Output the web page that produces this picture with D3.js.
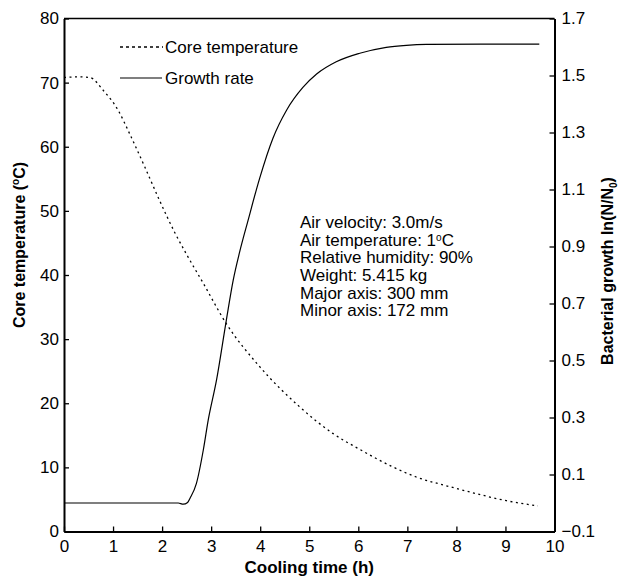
<!DOCTYPE html>
<html>
<head>
<meta charset="utf-8">
<script src="https://cdn.jsdelivr.net/npm/d3@7"></script>
<style>
  body { margin: 0; background: #fff; }
  svg { display: block; font-family: "Liberation Sans", Arial, sans-serif; }
</style>
</head>
<body>
<svg id="chart" width="623" height="584"></svg>
<script>
// ---- data ----
const tempTime = [0, 0.3, 0.53, 0.8, 1.11, 1.34, 1.65, 1.95, 2.26, 2.5, 2.84, 3.31, 3.99, 4.81, 5.48, 6.03, 6.67, 7.18, 7.86, 8.51, 9.02, 9.66];
const coreTemp = [70.8, 70.9, 70.8, 68.8, 65.6, 62.0, 56.8, 51.6, 46.6, 43.2, 38.7, 32.4, 25.7, 19.4, 15.3, 12.8, 10.2, 8.5, 7.0, 5.7, 4.8, 4.0];

const growthTime = [0, 1, 2, 2.33, 2.43, 2.52, 2.57, 2.70, 2.84, 2.94, 3.11, 3.31, 3.45, 3.58, 3.75, 3.99, 4.26, 4.54, 4.87, 5.15, 5.55, 6.03, 6.57, 6.98, 7.39, 8.5, 9.69];
const growth = [0, 0, 0, 0, -0.004, 0.002, 0.017, 0.069, 0.186, 0.291, 0.432, 0.642, 0.782, 0.88, 0.99, 1.14, 1.28, 1.379, 1.458, 1.505, 1.548, 1.578, 1.599, 1.606, 1.609, 1.610, 1.610];

const xTicks = [0, 1, 2, 3, 4, 5, 6, 7, 8, 9, 10];
const leftTicks = [0, 10, 20, 30, 40, 50, 60, 70, 80];
const rightTicks = [-0.1, 0.1, 0.3, 0.5, 0.7, 0.9, 1.1, 1.3, 1.5, 1.7];

const legendLabels = ["Core temperature", "Growth rate"];
const notes = ["Air velocity: 3.0m/s", "Air temperature: 1|C", "Relative humidity: 90%", "Weight: 5.415 kg", "Major axis: 300 mm", "Minor axis: 172 mm"];

// ---- layout ----
const L = 64, R = 554.5, T = 18.5, B = 531.5;
const svg = d3.select("#chart");
const x = d3.scaleLinear().domain([0, 10]).range([L, R]);
const yL = d3.scaleLinear().domain([0, 80]).range([B, T]);
const yR = d3.scaleLinear().domain([-0.1, 1.7]).range([B, T]);

const fs = 17;

// frame top line
svg.append("line").attr("x1", L).attr("x2", R).attr("y1", T).attr("y2", T)
  .attr("stroke", "#000").attr("stroke-width", 1.3);

// axes
const gx = svg.append("g").attr("transform", `translate(0,${B})`)
  .call(d3.axisBottom(x).tickValues(xTicks).tickFormat(d3.format("d")).tickSizeInner(-5).tickSizeOuter(0).tickPadding(8));
const gl = svg.append("g").attr("transform", `translate(${L},0)`)
  .call(d3.axisLeft(yL).tickValues(leftTicks).tickFormat(d3.format("d")).tickSizeInner(-5).tickSizeOuter(0).tickPadding(5));
const gr = svg.append("g").attr("transform", `translate(${R},0)`)
  .call(d3.axisRight(yR).tickValues(rightTicks).tickFormat(d3.format(".1f")).tickSizeInner(-5).tickSizeOuter(0).tickPadding(7));

[gx, gl, gr].forEach(g => {
  g.select(".domain").attr("stroke", "#000").attr("stroke-width", 2);
  g.selectAll(".tick line").attr("stroke", "#000").attr("stroke-width", 1.3);
  g.selectAll(".tick text").attr("fill", "#000").attr("font-size", fs)
    .attr("font-family", "'Liberation Sans', Arial, sans-serif");
});

// lines
const lineT = d3.line().x((d, i) => x(tempTime[i])).y(d => yL(d)).curve(d3.curveMonotoneX);
svg.append("path").datum(coreTemp).attr("d", lineT)
  .attr("fill", "none").attr("stroke", "#000").attr("stroke-width", 1.3)
  .attr("stroke-dasharray", "2,3.5");

const lineG = d3.line().x((d, i) => x(growthTime[i])).y(d => yR(d)).curve(d3.curveMonotoneX);
svg.append("path").datum(growth).attr("d", lineG)
  .attr("fill", "none").attr("stroke", "#000").attr("stroke-width", 1.2);

// legend
const legY = [47, 78];
svg.append("line").attr("x1", 120).attr("x2", 163).attr("y1", legY[0]).attr("y2", legY[0])
  .attr("stroke", "#000").attr("stroke-width", 1.3).attr("stroke-dasharray", "3,3");
svg.append("line").attr("x1", 120).attr("x2", 162).attr("y1", legY[1]).attr("y2", legY[1])
  .attr("stroke", "#000").attr("stroke-width", 1.1);
legendLabels.forEach((t, i) => {
  svg.append("text").attr("x", 165).attr("y", legY[i]).attr("dy", "0.35em")
    .attr("font-size", fs).text(t);
});

// notes
notes.forEach((t, i) => {
  const txt = svg.append("text").attr("x", 300).attr("y", 222 + i * 17.7).attr("dy", "0.35em")
    .attr("font-size", fs);
  if (t.includes("|")) {
    const parts = t.split("|");
    txt.append("tspan").text(parts[0]);
    txt.append("tspan").attr("font-size", 10).attr("dy", -5).text("o");
    txt.append("tspan").attr("dy", 5).text(parts[1]);
  } else txt.text(t);
});

// axis titles
svg.append("text").attr("x", x(5)).attr("y", 573).attr("text-anchor", "middle")
  .attr("font-size", fs).attr("font-weight", "bold").text("Cooling time (h)");

const lt = svg.append("text").attr("transform", "translate(25,245) rotate(-90)")
  .attr("text-anchor", "middle").attr("font-size", 16).attr("font-weight", "bold");
lt.append("tspan").text("Core temperature (");
lt.append("tspan").attr("font-size", 10).attr("dy", -6).text("o");
lt.append("tspan").attr("dy", 6).text("C)");

const rt = svg.append("text").attr("transform", "translate(613,271) rotate(-90)")
  .attr("text-anchor", "middle").attr("font-size", 16).attr("font-weight", "bold");
rt.append("tspan").text("Bacterial growth ln(N/N");
rt.append("tspan").attr("font-size", 10).attr("dy", 4).text("0");
rt.append("tspan").attr("dy", -4).text(")");
</script>
</body>
</html>
